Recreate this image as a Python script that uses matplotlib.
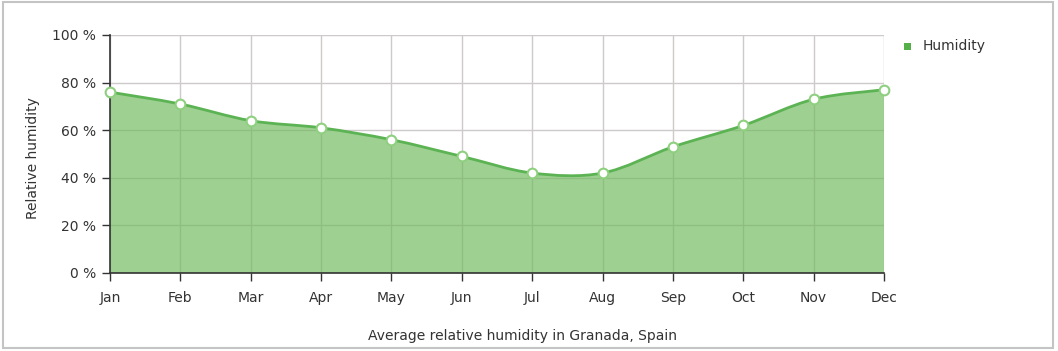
import matplotlib
matplotlib.use("Agg")
import matplotlib.pyplot as plt
import matplotlib.patches as shape
from matplotlib.path import Path
import numpy as np

months = ["Jan", "Feb", "Mar", "Apr", "May", "Jun", "Jul", "Aug", "Sep", "Oct", "Nov", "Dec"]
humidity = [76, 71, 64, 61, 56, 49, 42, 42, 53, 62, 73, 77]
yticks = [0, 20, 40, 60, 80, 100]

line_col = "#5cb353"
fill_col = "#70bb5e"


def smooth_path(xs, ys, close_to=None):
    # bezier path through the points (catmull-rom style control points)
    xs = np.asarray(xs, float)
    ys = np.asarray(ys, float)
    verts = [(xs[0], ys[0])]
    codes = [Path.MOVETO]
    n = len(xs)
    for i in range(n - 1):
        p0 = (xs[max(i - 1, 0)], ys[max(i - 1, 0)])
        p1 = (xs[i], ys[i])
        p2 = (xs[i + 1], ys[i + 1])
        p3 = (xs[min(i + 2, n - 1)], ys[min(i + 2, n - 1)])
        t = 1 / 6
        c1 = (p1[0] + (p2[0] - p0[0]) * t, p1[1] + (p2[1] - p0[1]) * t)
        c2 = (p2[0] - (p3[0] - p1[0]) * t, p2[1] - (p3[1] - p1[1]) * t)
        verts += [c1, c2, p2]
        codes += [Path.CURVE4] * 3
    if close_to is not None:
        verts += [(xs[-1], close_to), (xs[0], close_to), (xs[0], ys[0])]
        codes += [Path.LINETO, Path.LINETO, Path.CLOSEPOLY]
    return Path(verts, codes)


fig = plt.figure(figsize=(10.58, 3.51), dpi=100)
fig.patches.append(shape.Rectangle((0.003, 0.008), 0.992, 0.985, transform=fig.transFigure,
                                   fill=False, edgecolor="#c4c4c4", linewidth=1.5))

ax = fig.add_axes([110 / 1058, 1 - 273 / 351, (884 - 110) / 1058, (273 - 35) / 351])
x = np.arange(len(months))

ax.grid(True, color="#cfcaca", linewidth=1, zorder=0)
ax.set_axisbelow(True)

ax.add_patch(shape.PathPatch(smooth_path(x, humidity, close_to=0), facecolor=fill_col,
                             edgecolor="none", alpha=0.68, zorder=1))
ax.add_patch(shape.PathPatch(smooth_path(x, humidity), facecolor="none",
                             edgecolor=line_col, linewidth=2, zorder=2))
ax.plot(x, humidity, linestyle="none", marker="o", markersize=7, markerfacecolor="white",
        markeredgecolor="#8fd080", markeredgewidth=1.5, zorder=3, clip_on=False)

ax.set_xlim(0, len(months) - 1)
ax.set_ylim(0, 100)
ax.set_xticks(x)
ax.set_xticklabels(months)
ax.set_yticks(yticks)
ax.set_yticklabels([f"{v} %" for v in yticks])
ax.tick_params(axis="both", direction="out", length=6, width=1, color="#333333",
               labelsize=10, labelcolor="#333333", pad=4)
ax.tick_params(axis="x", pad=7)

for s in ["top", "right"]:
    ax.spines[s].set_visible(False)
for s in ["left", "bottom"]:
    ax.spines[s].set_color("#333333")
    ax.spines[s].set_linewidth(1.2)

fig.text(33 / 1058, 1 - 158 / 351, "Relative humidity", rotation=90, ha="center", va="center",
         fontsize=10, color="#333333")
fig.text(522 / 1058, 1 - 336 / 351, "Average relative humidity in Granada, Spain", ha="center",
         va="center", fontsize=10, color="#333333")

fig.patches.append(shape.Rectangle((904 / 1058, 1 - 50 / 351), 7 / 1058, 7 / 351,
                                   transform=fig.transFigure, facecolor="#55b04a",
                                   edgecolor="none"))
fig.text(923 / 1058, 1 - 46 / 351, "Humidity", ha="left", va="center", fontsize=10,
         color="#333333")

fig.savefig("out.png", dpi=100)
